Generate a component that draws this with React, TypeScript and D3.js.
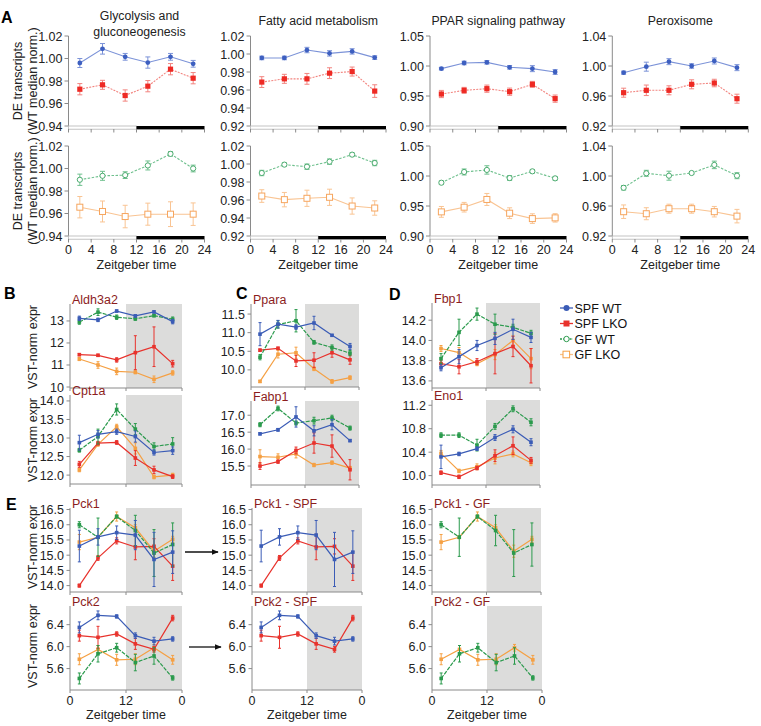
import React from 'react';
import * as d3 from 'd3';

// ---------- data ----------
const zt = [2, 6, 10, 14, 18, 22];

// Panel A: Glycolysis and gluconeogenesis
const glySpfWt = [0.996, 1.0086, 1.0015, 0.9964, 1.0015, 0.9953];
const glySpfWtSe = [0.004, 0.0047, 0.003, 0.005, 0.003, 0.003];
const glySpfLko = [0.9727, 0.9766, 0.9671, 0.9754, 0.9905, 0.9825];
const glySpfLkoSe = [0.005, 0.004, 0.005, 0.005, 0.005, 0.005];
const glyGfWt = [0.99, 0.9935, 0.9941, 1.0027, 1.013, 1.0];
const glyGfWtSe = [0.005, 0.004, 0.003, 0.004, 0.002, 0.003];
const glyGfLko = [0.9656, 0.9618, 0.9573, 0.9594, 0.9594, 0.9594];
const glyGfLkoSe = [0.0095, 0.0093, 0.01, 0.0098, 0.011, 0.01];

// Panel A: Fatty acid metabolism
const fatSpfWt = [0.9956, 0.9956, 1.0044, 1.0007, 1.0029, 0.996];
const fatSpfWtSe = [0.002, 0.002, 0.003, 0.003, 0.003, 0.002];
const fatSpfLko = [0.9688, 0.9724, 0.9724, 0.9787, 0.9805, 0.9588];
const fatSpfLkoSe = [0.006, 0.005, 0.006, 0.006, 0.005, 0.007];
const fatGfWt = [0.99, 0.9993, 0.997, 1.0026, 1.0104, 1.0011];
const fatGfWtSe = [0.003, 0.002, 0.003, 0.003, 0.002, 0.003];
const fatGfLko = [0.9644, 0.9604, 0.9619, 0.963, 0.9533, 0.9511];
const fatGfLkoSe = [0.007, 0.008, 0.009, 0.009, 0.009, 0.008];

// Panel A: PPAR signaling pathway
const pparSpfWt = [0.9956, 1.005, 1.0061, 0.9978, 0.9956, 0.99];
const pparSpfWtSe = [0.002, 0.003, 0.003, 0.003, 0.005, 0.004];
const pparSpfLko = [0.9533, 0.9594, 0.9622, 0.9572, 0.9694, 0.9456];
const pparSpfLkoSe = [0.006, 0.005, 0.006, 0.006, 0.005, 0.006];
const pparGfWt = [0.9888, 1.0067, 1.0101, 0.9966, 1.0078, 0.9961];
const pparGfWtSe = [0.003, 0.005, 0.007, 0.004, 0.003, 0.003];
const pparGfLko = [0.9402, 0.948, 0.9609, 0.938, 0.929, 0.9302];
const pparGfLkoSe = [0.009, 0.008, 0.01, 0.009, 0.008, 0.007];

// Panel A: Peroxisome
const peroxSpfWt = [0.9911, 0.9991, 1.0058, 1.0, 1.0067, 0.9978];
const peroxSpfWtSe = [0.002, 0.006, 0.004, 0.003, 0.004, 0.004];
const peroxSpfLko = [0.9644, 0.9676, 0.9676, 0.9756, 0.9773, 0.9564];
const peroxSpfLkoSe = [0.006, 0.007, 0.006, 0.006, 0.005, 0.006];
const peroxGfWt = [0.9843, 1.0036, 1.0004, 1.004, 1.0148, 1.0004];
const peroxGfWtSe = [0.003, 0.004, 0.006, 0.002, 0.005, 0.004];
const peroxGfLko = [0.9524, 0.9497, 0.9564, 0.9564, 0.9524, 0.9465];
const peroxGfLkoSe = [0.009, 0.008, 0.006, 0.006, 0.007, 0.009];

// Panels B-E genes: [SPF WT, SPF LKO, GF WT, GF LKO]
const aldhWt = [13.12, 13.05, 13.45, 13.23, 13.41, 12.97];
const aldhWtSe = [0.1, 0.08, 0.05, 0.05, 0.05, 0.1];
const aldhLko = [11.47, 11.44, 11.23, 11.56, 11.83, 11.06];
const aldhLkoSe = [0.05, 0.05, 0.1, 0.77, 0.9, 0.15];
const aldhGfWt = [12.95, 13.4, 13.17, 13.1, 13.24, 13.08];
const aldhGfWtSe = [0.1, 0.15, 0.1, 0.07, 0.05, 0.1];
const aldhGfLko = [11.27, 11.0, 10.71, 10.67, 10.35, 10.64];
const aldhGfLkoSe = [0.07, 0.15, 0.15, 0.07, 0.15, 0.1];

const cptWt = [12.875, 13.1, 13.17, 13.04, 12.61, 12.66];
const cptWtSe = [0.2, 0.1, 0.07, 0.15, 0.07, 0.1];
const cptLko = [12.29, 12.86, 12.88, 12.46, 12.14, 11.96];
const cptLkoSe = [0.08, 0.05, 0.05, 0.2, 0.1, 0.05];
const cptGfWt = [12.67, 13.04, 13.77, 13.24, 12.77, 12.84];
const cptGfWtSe = [0.05, 0.2, 0.15, 0.15, 0.1, 0.17];
const cptGfLko = [12.14, 12.83, 13.3, 12.72, 11.95, 12.0];
const cptGfLkoSe = [0.05, 0.05, 0.07, 0.15, 0.05, 0.05];

const pparaWt = [10.96, 11.23, 11.15, 11.26, 10.93, 10.63];
const pparaWtSe = [0.31, 0.1, 0.06, 0.18, 0.02, 0.08];
const pparaLko = [10.53, 10.58, 10.24, 10.26, 10.46, 10.27];
const pparaLkoSe = [0.03, 0.03, 0.15, 0.2, 0.12, 0.12];
const pparaGfWt = [10.34, 11.22, 11.32, 10.74, 10.6, 10.45];
const pparaGfWtSe = [0.07, 0.1, 0.3, 0.05, 0.07, 0.07];
const pparaGfLko = [9.69, 10.42, 10.46, 10.03, 9.69, 9.79];
const pparaGfLkoSe = [0.03, 0.1, 0.15, 0.05, 0.05, 0.05];

const fabpWt = [16.45, 16.57, 16.95, 16.54, 16.72, 16.25];
const fabpWtSe = [0.03, 0.04, 0.3, 0.15, 0.15, 0.03];
const fabpLko = [15.5, 15.63, 15.96, 16.18, 16.09, 15.39];
const fabpLkoSe = [0.1, 0.05, 0.1, 0.3, 0.33, 0.3];
const fabpGfWt = [16.72, 17.2, 16.77, 16.84, 16.92, 16.62];
const fabpGfWtSe = [0.06, 0.07, 0.06, 0.1, 0.08, 0.06];
const fabpGfLko = [15.78, 15.76, 15.86, 15.53, 15.6, 15.44];
const fabpGfLkoSe = [0.2, 0.1, 0.12, 0.05, 0.05, 0.05];

const fbpWt = [13.73, 13.84, 13.95, 14.02, 14.11, 14.03];
const fbpWtSe = [0.03, 0.07, 0.05, 0.06, 0.1, 0.05];
const fbpLko = [13.77, 13.74, 13.79, 13.87, 13.94, 13.75];
const fbpLkoSe = [0.03, 0.07, 0.03, 0.2, 0.1, 0.17];
const fbpGfWt = [13.82, 14.08, 14.26, 14.16, 14.13, 14.07];
const fbpGfWtSe = [0.05, 0.13, 0.06, 0.1, 0.03, 0.03];
const fbpGfLko = [13.92, 13.88, 13.77, 13.86, 14.0, 13.82];
const fbpGfLkoSe = [0.03, 0.05, 0.02, 0.05, 0.05, 0.1];

const enoWt = [10.32, 10.37, 10.46, 10.65, 10.79, 10.57];
const enoWtSe = [0.2, 0.03, 0.03, 0.05, 0.06, 0.06];
const enoLko = [10.05, 9.98, 10.13, 10.34, 10.51, 10.26];
const enoLkoSe = [0.03, 0.03, 0.03, 0.1, 0.15, 0.05];
const enoGfWt = [10.69, 10.69, 10.52, 10.84, 11.14, 10.91];
const enoGfWtSe = [0.04, 0.04, 0.1, 0.05, 0.05, 0.06];
const enoGfLko = [10.38, 10.08, 10.15, 10.3, 10.37, 10.22];
const enoGfLkoSe = [0.05, 0.03, 0.05, 0.1, 0.05, 0.05];

const pck1Wt = [15.3, 15.6, 15.74, 15.66, 14.86, 15.1];
const pck1WtSe = [0.52, 0.27, 0.22, 0.48, 0.89, 0.7];
const pck1Lko = [14.0, 14.91, 15.47, 15.27, 15.29, 14.64];
const pck1LkoSe = [0.05, 0.08, 0.1, 0.42, 0.25, 0.47];
const pck1GfWt = [16.0, 15.59, 16.27, 15.81, 15.07, 15.35];
const pck1GfWtSe = [0.1, 0.63, 0.05, 0.5, 0.77, 0.71];
const pck1GfLko = [15.43, 15.59, 16.27, 15.9, 15.13, 15.52];
const pck1GfLkoSe = [0.25, 0.05, 0.15, 0.1, 0.2, 0.1];

const pck2Wt = [6.35, 6.57, 6.55, 6.2, 6.1, 6.14];
const pck2WtSe = [0.1, 0.08, 0.03, 0.05, 0.07, 0.04];
const pck2Lko = [6.2, 6.17, 6.23, 6.05, 5.95, 6.52];
const pck2LkoSe = [0.1, 0.2, 0.04, 0.1, 0.05, 0.05];
const pck2GfWt = [5.42, 5.87, 5.98, 5.71, 5.83, 5.43];
const pck2GfWtSe = [0.1, 0.15, 0.08, 0.15, 0.15, 0.04];
const pck2GfLko = [5.77, 5.95, 5.76, 5.77, 5.98, 5.76];
const pck2GfLkoSe = [0.1, 0.07, 0.1, 0.1, 0.06, 0.08];

const legendLabels = ['SPF WT', 'SPF LKO', 'GF WT', 'GF LKO'];
const aTitles = [['Glycolysis and', 'gluconeogenesis'], ['Fatty acid metabolism'], ['PPAR signaling pathway'], ['Peroxisome']];
const aTicks = [
  [0.94, 0.96, 0.98, 1.0, 1.02],
  [0.92, 0.94, 0.96, 0.98, 1.0, 1.02],
  [0.9, 0.95, 1.0, 1.05],
  [0.92, 0.96, 1.0, 1.04],
];
const aXTicks = [0, 4, 8, 12, 16, 20, 24];

// ---------- styles ----------
const FONT = "'Liberation Sans', Arial, Helvetica, sans-serif";
const FS = 12.5;
const COL = { wt: '#3b5cb6', lko: '#e8322c', gfwt: '#2a9a4c', gflko: '#f5a043' };
const ACOL = {
  wt: { mark: '#3d5fc0', line: '#7c93d8', dash: undefined as string | undefined },
  lko: { mark: '#ee2a24', line: '#f2847f', dash: '2,1.2' },
  gfwt: { mark: '#4aab6e', line: '#6fc08e', dash: '2.5,1.5' },
  gflko: { mark: '#f6a55e', line: '#f9c493', dash: undefined as string | undefined },
};
const AXIS = '#8a8a8a';
const TITLE_RED = '#8c1d1d';

type S = { mean: number[]; se: number[]; kind: 'wt' | 'lko' | 'gfwt' | 'gflko' };

function APanel(props: {
  x0: number; x1: number; y0: number; y1: number; domain: [number, number];
  ticks: number[]; series: S[]; showX: boolean;
}) {
  const { x0, x1, y0, y1, domain, ticks, series, showX } = props;
  const x = d3.scaleLinear().domain([0, 24]).range([x0, x1]);
  const y = d3.scaleLinear().domain(domain).range([y1, y0]);
  const line = d3.line<number>().x((_, i) => x(zt[i])).y((d) => y(d));
  return (
    <g>
      <line x1={x0} x2={x0} y1={y0} y2={y1} stroke={AXIS} strokeWidth={1} />
      {ticks.map((t) => (
        <g key={t}>
          <line x1={x0 - 4} x2={x0} y1={y(t)} y2={y(t)} stroke={AXIS} />
          <text x={x0 - 6} y={y(t) + 4.5} textAnchor="end" fontSize={FS} fill="#222">{t.toFixed(2)}</text>
        </g>
      ))}
      <rect x={x0} y={y1} width={x(12) - x0} height={3.2} fill="#fff" stroke="#b5b5b5" strokeWidth={0.8} />
      <rect x={x(12)} y={y1} width={x1 - x(12)} height={3.4} fill="#000" />
      {aXTicks.map((t) => (
        <line key={t} x1={x(t)} x2={x(t)} y1={y1 + 3} y2={y1 + 6.5} stroke={AXIS} />
      ))}
      {showX && aXTicks.map((t) => (
        <text key={'l' + t} x={x(t)} y={y1 + 17.5} textAnchor="middle" fontSize={FS} fill="#222">{t}</text>
      ))}
      {showX && (
        <text x={(x0 + x1) / 2} y={y1 + 33} textAnchor="middle" fontSize={FS} fill="#222">Zeitgeber time</text>
      )}
      {series.map((s, si) => {
        const c = ACOL[s.kind];
        return (
          <g key={si}>
            <path d={line(s.mean) || ''} fill="none" stroke={c.line} strokeWidth={1.1} strokeDasharray={c.dash} />
            {s.mean.map((v, i) => (
              <g key={i}>
                <line x1={x(zt[i])} x2={x(zt[i])} y1={y(v - s.se[i])} y2={y(v + s.se[i])} stroke={c.line} strokeWidth={1} />
                <line x1={x(zt[i]) - 2.5} x2={x(zt[i]) + 2.5} y1={y(v - s.se[i])} y2={y(v - s.se[i])} stroke={c.line} strokeWidth={1} />
                <line x1={x(zt[i]) - 2.5} x2={x(zt[i]) + 2.5} y1={y(v + s.se[i])} y2={y(v + s.se[i])} stroke={c.line} strokeWidth={1} />
                {s.kind === 'wt' && <circle cx={x(zt[i])} cy={y(v)} r={2.4} fill={c.mark} />}
                {s.kind === 'lko' && <rect x={x(zt[i]) - 2.6} y={y(v) - 2.6} width={5.2} height={5.2} fill={c.mark} />}
                {s.kind === 'gfwt' && <circle cx={x(zt[i])} cy={y(v)} r={2.6} fill="#fff" stroke={c.mark} strokeWidth={1} />}
                {s.kind === 'gflko' && <rect x={x(zt[i]) - 3} y={y(v) - 3} width={6} height={6} fill="#fff" stroke={c.mark} strokeWidth={1} />}
              </g>
            ))}
          </g>
        );
      })}
    </g>
  );
}

function GenePanel(props: {
  x0: number; x1: number; y0: number; y1: number; domain: [number, number];
  ticks: number[]; fmt: string; title: string; series: S[]; showX?: boolean;
}) {
  const { x0, x1, y0, y1, domain, ticks, fmt, title, series, showX } = props;
  const x = d3.scaleLinear().domain([0, 24]).range([x0, x1]);
  const y = d3.scaleLinear().domain(domain).range([y1, y0]);
  const f = d3.format(fmt);
  const line = d3.line<number>().x((_, i) => x(zt[i])).y((d) => y(d));
  const xt = [0, 12, 24];
  const xl = ['0', '12', '0'];
  return (
    <g>
      <rect x={x(12)} y={y0} width={x1 - x(12)} height={y1 - y0} fill="#dcdcdb" />
      <line x1={x0} x2={x0} y1={y0} y2={y1} stroke={AXIS} />
      <line x1={x0} x2={x1} y1={y1} y2={y1} stroke={AXIS} />
      {ticks.map((t) => (
        <g key={t}>
          <line x1={x0 - 3.5} x2={x0} y1={y(t)} y2={y(t)} stroke={AXIS} />
          <text x={x0 - 6} y={y(t) + 4.5} textAnchor="end" fontSize={FS} fill="#222">{f(t)}</text>
        </g>
      ))}
      {xt.map((t) => (
        <line key={t} x1={x(t)} x2={x(t)} y1={y1} y2={y1 + 3} stroke={AXIS} />
      ))}
      {showX && xt.map((t, i) => (
        <text key={'l' + t} x={x(t)} y={y1 + 15} textAnchor="middle" fontSize={FS} fill="#222">{xl[i]}</text>
      ))}
      {showX && (
        <text x={(x0 + x1) / 2} y={y1 + 29} textAnchor="middle" fontSize={FS} fill="#222">Zeitgeber time</text>
      )}
      {series.map((s, si) => {
        const c = COL[s.kind];
        return (
          <g key={si}>
            <path d={line(s.mean) || ''} fill="none" stroke={c} strokeWidth={1.2}
              strokeDasharray={s.kind === 'gfwt' ? '4,1.2' : undefined} />
            {s.mean.map((v, i) => (
              <g key={i}>
                <line x1={x(zt[i])} x2={x(zt[i])} y1={y(v - s.se[i])} y2={y(v + s.se[i])} stroke={c} strokeWidth={1} />
                <line x1={x(zt[i]) - 1.5} x2={x(zt[i]) + 1.5} y1={y(v - s.se[i])} y2={y(v - s.se[i])} stroke={c} strokeWidth={1} />
                <line x1={x(zt[i]) - 1.5} x2={x(zt[i]) + 1.5} y1={y(v + s.se[i])} y2={y(v + s.se[i])} stroke={c} strokeWidth={1} />
                <rect x={x(zt[i]) - 1.8} y={y(v) - 1.8} width={3.6} height={3.6} fill={c} />
              </g>
            ))}
          </g>
        );
      })}
      <text x={x0 + 2} y={y0 - 0.5} fontSize={FS} fill={TITLE_RED}>{title}</text>
    </g>
  );
}

const mk = (kind: S['kind'], mean: number[], se: number[]): S => ({ kind, mean, se });

export default function App() {
  const aCols = [
    { x0: 68.5, x1: 204.5, domain: [0.94, 1.02] as [number, number],
      top: [mk('wt', glySpfWt, glySpfWtSe), mk('lko', glySpfLko, glySpfLkoSe)],
      bot: [mk('gflko', glyGfLko, glyGfLkoSe), mk('gfwt', glyGfWt, glyGfWtSe)] },
    { x0: 250.5, x1: 386, domain: [0.92, 1.02] as [number, number],
      top: [mk('wt', fatSpfWt, fatSpfWtSe), mk('lko', fatSpfLko, fatSpfLkoSe)],
      bot: [mk('gflko', fatGfLko, fatGfLkoSe), mk('gfwt', fatGfWt, fatGfWtSe)] },
    { x0: 430, x1: 566.5, domain: [0.9, 1.05] as [number, number],
      top: [mk('wt', pparSpfWt, pparSpfWtSe), mk('lko', pparSpfLko, pparSpfLkoSe)],
      bot: [mk('gflko', pparGfLko, pparGfLkoSe), mk('gfwt', pparGfWt, pparGfWtSe)] },
    { x0: 612.3, x1: 748.3, domain: [0.92, 1.04] as [number, number],
      top: [mk('wt', peroxSpfWt, peroxSpfWtSe), mk('lko', peroxSpfLko, peroxSpfLkoSe)],
      bot: [mk('gflko', peroxGfLko, peroxGfLkoSe), mk('gfwt', peroxGfWt, peroxGfWtSe)] },
  ];
  const all = (a: number[], ase: number[], b: number[], bse: number[], c: number[], cse: number[], d: number[], dse: number[]) =>
    [mk('gflko', d, dse), mk('lko', b, bse), mk('gfwt', c, cse), mk('wt', a, ase)];

  const vstLabel = (cx: number, cy: number) => (
    <text transform={`translate(${cx},${cy}) rotate(-90)`} textAnchor="middle" fontSize={FS} fill="#222">VST-norm expr</text>
  );

  return (
    <div style={{ position: 'absolute', left: 0, top: 0 }}>
      <svg width={761} height={726} style={{ display: 'block', fontFamily: FONT }}>
        <rect width={761} height={726} fill="#fff" />
        {/* Panel letters */}
        <text x={1} y={23} fontSize={16} fontWeight={900}>A</text>
        <text x={4} y={299} fontSize={16} fontWeight={900}>B</text>
        <text x={236} y={299} fontSize={16} fontWeight={900}>C</text>
        <text x={389} y={300} fontSize={16} fontWeight={900}>D</text>
        <text x={6} y={510} fontSize={16} fontWeight={900}>E</text>

        {/* Panel A */}
        {aCols.map((c, i) => (
          <g key={i}>
            {aTitles[i].map((t, j) => (
              <text key={j} x={(c.x0 + c.x1) / 2 + (i === 0 ? 3 : 0)} y={aTitles[i].length > 1 ? 20 + j * 15.5 : 25}
                textAnchor="middle" fontSize={12.3} fill="#222">{t}</text>
            ))}
            <APanel x0={c.x0} x1={c.x1} y0={36} y1={126} domain={c.domain} ticks={aTicks[i]} series={c.top} showX={false} />
            <APanel x0={c.x0} x1={c.x1} y0={146} y1={236} domain={c.domain} ticks={aTicks[i]} series={c.bot} showX={true} />
          </g>
        ))}
        {[81, 191].map((cy) => (
          <g key={cy}>
            <text transform={`translate(22,${cy}) rotate(-90)`} textAnchor="middle" fontSize={FS} fill="#222">DE transcripts</text>
            <text transform={`translate(37,${cy}) rotate(-90)`} textAnchor="middle" fontSize={FS} fill="#222">(WT median norm.)</text>
          </g>
        ))}

        {/* Panel B */}
        <GenePanel x0={70} x1={182} y0={304} y1={388} domain={[9.955, 13.77]} ticks={[10, 11, 12, 13]} fmt="d" title="Aldh3a2"
          series={all(aldhWt, aldhWtSe, aldhLko, aldhLkoSe, aldhGfWt, aldhGfWtSe, aldhGfLko, aldhGfLkoSe)} />
        <GenePanel x0={70} x1={182} y0={395} y1={484} domain={[11.76, 14.16]} ticks={[12, 12.5, 13, 13.5, 14]} fmt=".1f" title="Cpt1a"
          series={all(cptWt, cptWtSe, cptLko, cptLkoSe, cptGfWt, cptGfWtSe, cptGfLko, cptGfLkoSe)} />
        {vstLabel(37, 347)}
        {vstLabel(37, 440)}

        {/* Panel C */}
        <GenePanel x0={251} x1={359} y0={304} y1={387} domain={[9.54, 11.77]} ticks={[10, 10.5, 11, 11.5]} fmt=".1f" title="Ppara"
          series={all(pparaWt, pparaWtSe, pparaLko, pparaLkoSe, pparaGfWt, pparaGfWtSe, pparaGfLko, pparaGfLkoSe)} />
        <GenePanel x0={251} x1={359} y0={401} y1={485} domain={[14.94, 17.42]} ticks={[15.5, 16, 16.5, 17]} fmt=".1f" title="Fabp1"
          series={all(fabpWt, fabpWtSe, fabpLko, fabpLkoSe, fabpGfWt, fabpGfWtSe, fabpGfLko, fabpGfLkoSe)} />

        {/* Panel D */}
        <GenePanel x0={432} x1={540} y0={303} y1={388} domain={[13.53, 14.37]} ticks={[13.6, 13.8, 14.0, 14.2]} fmt=".1f" title="Fbp1"
          series={all(fbpWt, fbpWtSe, fbpLko, fbpLkoSe, fbpGfWt, fbpGfWtSe, fbpGfLko, fbpGfLkoSe)} />
        <GenePanel x0={432} x1={540} y0={400} y1={485} domain={[9.84, 11.29]} ticks={[10, 10.4, 10.8, 11.2]} fmt=".1f" title="Eno1"
          series={all(enoWt, enoWtSe, enoLko, enoLkoSe, enoGfWt, enoGfWtSe, enoGfLko, enoGfLkoSe)} />

        {/* Legend */}
        {legendLabels.map((lab, i) => {
          const kinds: S['kind'][] = ['wt', 'lko', 'gfwt', 'gflko'];
          const k = kinds[i];
          const c = COL[k];
          const cy = 308 + i * 15.5;
          return (
            <g key={lab}>
              <line x1={560} x2={573} y1={cy} y2={cy} stroke={k === 'gflko' ? '#f8bf88' : c} strokeWidth={1.3}
                strokeDasharray={k === 'gfwt' ? '2,1.2' : undefined} />
              {k === 'wt' && <circle cx={566.5} cy={cy} r={3} fill={c} />}
              {k === 'lko' && <rect x={563.5} y={cy - 3} width={6} height={6} fill={c} />}
              {k === 'gfwt' && <circle cx={566.5} cy={cy} r={2.7} fill="#fff" stroke={c} strokeWidth={1} />}
              {k === 'gflko' && <rect x={563} y={cy - 3.3} width={6.6} height={6.6} fill="#fff" stroke={c} strokeWidth={1} />}
              <text x={574.5} y={cy + 4.5} fontSize={FS} fill="#111">{lab}</text>
            </g>
          );
        })}

        {/* Panel E */}
        <GenePanel x0={70} x1={182} y0={508} y1={592} domain={[13.79, 16.55]} ticks={[14, 14.5, 15, 15.5, 16, 16.5]} fmt=".1f" title="Pck1"
          series={all(pck1Wt, pck1WtSe, pck1Lko, pck1LkoSe, pck1GfWt, pck1GfWtSe, pck1GfLko, pck1GfLkoSe)} />
        <GenePanel x0={70} x1={182} y0={606} y1={690} domain={[5.21, 6.74]} ticks={[5.6, 6.0, 6.4]} fmt=".1f" title="Pck2" showX
          series={all(pck2Wt, pck2WtSe, pck2Lko, pck2LkoSe, pck2GfWt, pck2GfWtSe, pck2GfLko, pck2GfLkoSe)} />
        {vstLabel(37, 547)}
        {vstLabel(37, 646)}

        <GenePanel x0={252} x1={362} y0={508} y1={592} domain={[13.79, 16.55]} ticks={[14, 14.5, 15, 15.5, 16, 16.5]} fmt=".1f" title="Pck1 - SPF"
          series={[mk('lko', pck1Lko, pck1LkoSe), mk('wt', pck1Wt, pck1WtSe)]} />
        <GenePanel x0={252} x1={362} y0={606} y1={690} domain={[5.21, 6.74]} ticks={[5.6, 6.0, 6.4]} fmt=".1f" title="Pck2 - SPF" showX
          series={[mk('lko', pck2Lko, pck2LkoSe), mk('wt', pck2Wt, pck2WtSe)]} />

        <GenePanel x0={432} x1={541} y0={508} y1={592} domain={[13.79, 16.55]} ticks={[14, 14.5, 15, 15.5, 16, 16.5]} fmt=".1f" title="Pck1 - GF"
          series={[mk('gflko', pck1GfLko, pck1GfLkoSe), mk('gfwt', pck1GfWt, pck1GfWtSe)]} />
        <GenePanel x0={432} x1={542} y0={606} y1={690} domain={[5.21, 6.74]} ticks={[5.6, 6.0, 6.4]} fmt=".1f" title="Pck2 - GF" showX
          series={[mk('gflko', pck2GfLko, pck2GfLkoSe), mk('gfwt', pck2GfWt, pck2GfWtSe)]} />

        {/* Arrows */}
        <defs>
          <marker id="ah" viewBox="0 0 10 10" refX={9} refY={5} markerWidth={7} markerHeight={7} orient="auto" markerUnits="userSpaceOnUse">
            <path d="M0,1 L10,5 L0,9 z" fill="#111" />
          </marker>
        </defs>
        <line x1={185} x2={218} y1={552} y2={552} stroke="#111" strokeWidth={1.3} markerEnd="url(#ah)" />
        <line x1={189} x2={221} y1={647} y2={647} stroke="#111" strokeWidth={1.3} markerEnd="url(#ah)" />
      </svg>
    </div>
  );
}
